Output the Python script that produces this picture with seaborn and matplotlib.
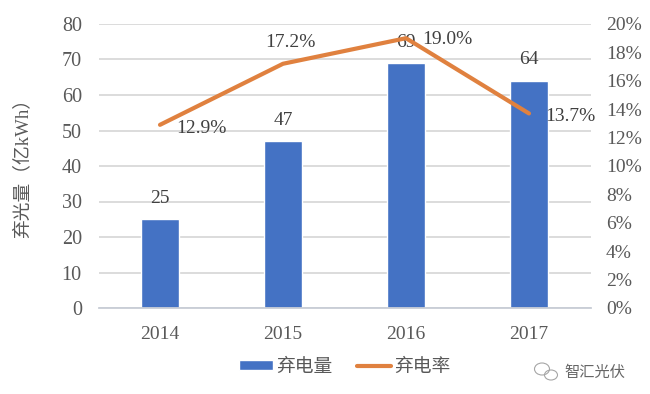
import matplotlib
matplotlib.use("Agg")
import matplotlib.pyplot as plt
from matplotlib.patches import Ellipse
from matplotlib.transforms import IdentityTransform
import seaborn as sns
import pandas as pd

years = ["2014", "2015", "2016", "2017"]
curtailed = [25, 47, 69, 64]
rate = [12.9, 17.2, 19.0, 13.7]
rate_labels = ["12.9%", "17.2%", "19.0%", "13.7%"]

sns.set_style("white")
plt.rcParams['font.family'] = ['Liberation Serif', 'Noto Sans CJK SC', 'DejaVu Sans']
TXT = "#595959"
fig = plt.figure(figsize=(6.5, 3.94), dpi=100, facecolor="white")
ax = fig.add_axes([98.5/650, 1-308/394, (590.5-98.5)/650, (308-24)/394])
df = pd.DataFrame({"year": years, "v": curtailed, "r": rate})
sns.barplot(data=df, x="year", y="v", ax=ax, color="#4472C4", saturation=1, width=0.31, label="弃电量")
ax.set_ylim(0, 80)
ax.set_xlim(-0.5, 3.5)
ax.set_yticks(range(0, 81, 10))
ax.grid(axis="y", color="#D9D9D9", lw=1.3)
ax.set_axisbelow(True)
ax.set_xlabel("")
ax.set_ylabel("弃光量（亿kWh）", fontsize=13.5, color=TXT)
ax.yaxis.set_label_coords((31-98.5)/492, 0.51)
ax.tick_params(axis="y", labelsize=14.5, labelcolor=TXT, length=0, pad=12)
ax.tick_params(axis="x", labelsize=14, labelcolor=TXT, length=0, pad=13)
for s in ["top", "left", "right"]:
    ax.spines[s].set_visible(False)
ax.spines["bottom"].set_color("#C8CDD6")
ax.spines["bottom"].set_linewidth(1.3)

ax2 = ax.twinx()
sns.lineplot(data=df, x="year", y="r", ax=ax2, color="#E0813F", lw=3.0, label="弃电率", legend=False)
ax2.set_ylim(0, 20)
ax2.set_yticks(range(0, 21, 2))
ax2.set_yticklabels([f"{i}%" for i in range(0, 21, 2)])
ax2.tick_params(axis="y", labelsize=14, labelcolor=TXT, length=0, pad=11)
ax2.set_ylabel("")
ax2.grid(False)
for s in ["top", "left", "right", "bottom"]:
    ax2.spines[s].set_visible(False)

for i, v in enumerate(curtailed):
    ax.annotate(str(v), (i, v), xytext=(0, 15), textcoords="offset points", ha="center", va="center", fontsize=14, color="#404040")
offs = [(30, -3), (5, 15), (30, -1), (30, -2)]
for i, (r, l) in enumerate(zip(rate, rate_labels)):
    ax2.annotate(l, (i, r), xytext=offs[i], textcoords="offset points", ha="center", va="center", fontsize=14, color="#404040")

h1, l1 = ax.get_legend_handles_labels()
h2, l2 = ax2.get_legend_handles_labels()
if ax.get_legend():
    ax.get_legend().remove()
fig.legend(h1 + h2, l1 + l2, loc="center", bbox_to_anchor=(345/650, 1-367/394), ncol=2, frameon=False, fontsize=13.5,
           labelcolor=TXT, handlelength=1.8, handleheight=0.5, columnspacing=1.3, handletextpad=0.2)
fig.text(595/650, 1-373/394, "智汇光伏", fontsize=11, color="#666666", ha="center", va="center")
# WeChat-style watermark icon, pixel coordinates measured from the bottom-left
for cx, cy, w, h in [(542, 394-369, 15, 12), (551, 394-375, 13, 10)]:
    fig.add_artist(Ellipse((cx, cy), w, h, transform=IdentityTransform(), fill=False, ec="#A6A6A6", lw=0.8))
fig.savefig("out.png", dpi=100)
